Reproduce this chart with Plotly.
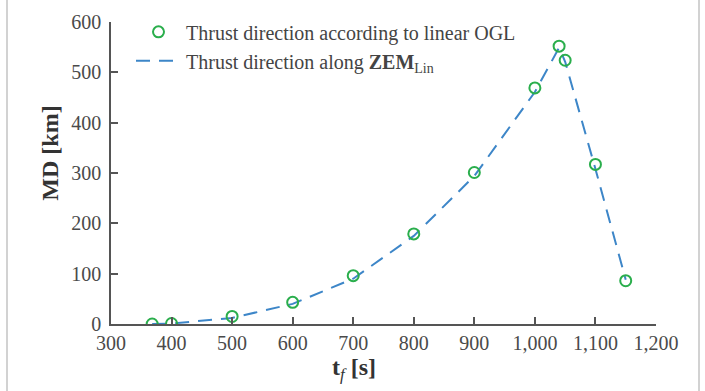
import plotly.graph_objects as go

# ---- data ----
tf_ogl = [368, 400, 500, 600, 700, 800, 900, 1000, 1040, 1050, 1100, 1150]
md_ogl = [0, 1, 15, 43, 96, 179, 301, 469, 552, 524, 317, 86]

tf_zem = [368, 400, 500, 600, 700, 800, 900, 1000, 1040, 1050, 1100, 1150]
md_zem = [0, 1, 12, 40, 90, 175, 294, 461, 549, 521, 308, 88]

x_ticks = [300, 400, 500, 600, 700, 800, 900, 1000, 1100, 1200]
y_ticks = [0, 100, 200, 300, 400, 500, 600]

FONT = "'Times New Roman', 'Liberation Serif', Tinos, 'DejaVu Serif', serif"
GREEN = "#2aae4c"
BLUE = "#3d86c8"
AXIS = "#555555"

fig = go.Figure()
fig.add_trace(go.Scatter(
    x=tf_zem, y=md_zem, mode="lines",
    name="Thrust direction along <b>ZEM</b><sub>Lin</sub>",
    line=dict(color=BLUE, width=2, dash="14px,9px"),
))
fig.add_trace(go.Scatter(
    x=tf_ogl, y=md_ogl, mode="markers",
    name="Thrust direction according to linear OGL",
    marker=dict(symbol="circle-open", size=11, color=GREEN, line=dict(width=2, color=GREEN)),
))

fig.update_layout(
    width=705, height=391,
    margin=dict(l=111, r=49, t=12, b=67),
    paper_bgcolor="white", plot_bgcolor="white",
    font=dict(family=FONT, size=20, color="#444444"),
    showlegend=True,
    legend=dict(
        x=(131 - 111) / 545, y=1.0 + 10 / 312, xanchor="left", yanchor="top",
        bgcolor="rgba(0,0,0,0)", font=dict(family=FONT, size=20, color="#444444"),
        traceorder="reversed", itemwidth=45,
    ),
    xaxis=dict(
        range=[300, 1200], tickvals=x_ticks, tickformat=",d",
        showline=True, linecolor=AXIS, linewidth=1.5,
        ticks="inside", ticklen=7, tickcolor=AXIS, tickwidth=1.5,
        showgrid=False, zeroline=False,
        tickfont=dict(family=FONT, size=20, color="#4a4a4a"),
    ),
    yaxis=dict(
        range=[0, 600], tickvals=y_ticks,
        showline=True, linecolor=AXIS, linewidth=1.5,
        ticks="inside", ticklen=7, tickcolor=AXIS, tickwidth=1.5,
        showgrid=False, zeroline=False, ticklabelstandoff=4,
        tickfont=dict(family=FONT, size=20, color="#4a4a4a"),
    ),
    annotations=[
        dict(text="<b>t</b><sub><i>f</i></sub><b> [s]</b>", xref="paper", yref="paper",
             x=(354 - 111) / 545, y=-(370 - 324) / 312, xanchor="center", yanchor="middle",
             showarrow=False, font=dict(family=FONT, size=24, color="#333333")),
        dict(text="<b>MD [km]</b>", xref="paper", yref="paper", textangle=-90,
             x=(50 - 111) / 545, y=(324 - 148) / 312, xanchor="center", yanchor="middle",
             showarrow=False, font=dict(family=FONT, size=24, color="#333333")),
    ],
    shapes=[
        dict(type="line", xref="paper", yref="paper", x0=(7 - 111) / 545, x1=(7 - 111) / 545,
             y0=-1, y1=2, line=dict(color="#d2d2d2", width=2)),
        dict(type="line", xref="paper", yref="paper", x0=(699 - 111) / 545, x1=(699 - 111) / 545,
             y0=-1, y1=2, line=dict(color="#d2d2d2", width=2)),
    ],
)

fig.write_html("out.html")
